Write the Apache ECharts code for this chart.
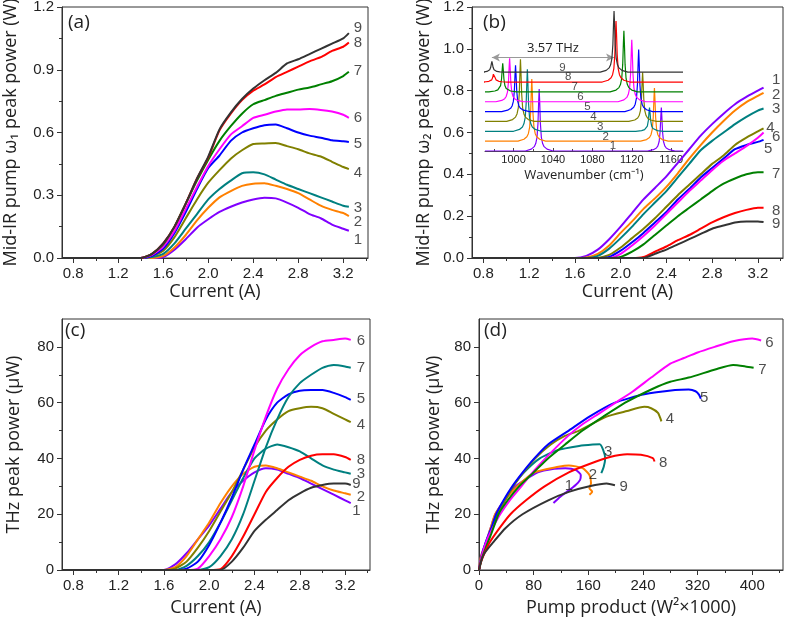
<!DOCTYPE html>
<html><head><meta charset="utf-8">
<script src="https://cdn.jsdelivr.net/npm/echarts@6/dist/echarts.min.js"></script>
<style>html,body{margin:0;padding:0;background:#fff}#c{width:787px;height:625px}</style>
</head><body><div id="c"></div>
<script>
// ---------------- DATA ----------------
const deviceNames = ['1','2','3','4','5','6','7','8','9'];
const current = [0.7,1.4,1.5,1.6,1.7,1.8,1.9,2.0,2.1,2.2,2.3,2.4,2.5,2.6,2.7,2.8,2.9,3.0,3.1,3.2,3.25];

// (a) Mid-IR pump w1 peak power (W), devices 1..9
const pumpW1 = [
  [0,0,0,0.005,0.04,0.09,0.145,0.185,0.22,0.245,0.265,0.28,0.288,0.285,0.265,0.24,0.21,0.19,0.16,0.14,0.13],
  [0,0,0,0.01,0.05,0.11,0.18,0.24,0.29,0.32,0.345,0.355,0.357,0.345,0.33,0.31,0.28,0.25,0.23,0.215,0.20],
  [0,0,0.005,0.02,0.07,0.14,0.21,0.28,0.33,0.37,0.405,0.41,0.40,0.375,0.35,0.33,0.31,0.29,0.27,0.25,0.245],
  [0,0,0.01,0.035,0.10,0.19,0.28,0.36,0.42,0.475,0.515,0.545,0.548,0.55,0.535,0.52,0.50,0.485,0.46,0.435,0.425],
  [0,0,0.01,0.045,0.12,0.22,0.33,0.43,0.49,0.56,0.60,0.62,0.635,0.638,0.62,0.60,0.585,0.575,0.563,0.558,0.555],
  [0,0,0.015,0.055,0.13,0.235,0.34,0.44,0.52,0.59,0.63,0.67,0.685,0.70,0.71,0.71,0.712,0.708,0.70,0.685,0.67],
  [0,0,0.02,0.065,0.15,0.26,0.37,0.47,0.56,0.63,0.69,0.735,0.755,0.775,0.79,0.805,0.815,0.83,0.845,0.87,0.89],
  [0,0,0.02,0.07,0.15,0.26,0.38,0.48,0.61,0.69,0.755,0.80,0.83,0.865,0.89,0.915,0.94,0.96,0.99,1.01,1.03],
  [0,0,0.02,0.07,0.15,0.26,0.38,0.485,0.615,0.695,0.76,0.81,0.85,0.885,0.93,0.95,0.975,1.0,1.025,1.05,1.075]
];
// (b) Mid-IR pump w2 peak power (W)
const pumpW2 = [
  [0,0,0,0,0.01,0.04,0.09,0.15,0.215,0.28,0.335,0.39,0.455,0.52,0.585,0.64,0.69,0.735,0.77,0.80,0.815],
  [0,0,0,0,0.003,0.02,0.06,0.12,0.175,0.235,0.285,0.34,0.405,0.475,0.54,0.60,0.655,0.705,0.745,0.775,0.79],
  [0,0,0,0,0,0.01,0.045,0.095,0.15,0.21,0.265,0.32,0.385,0.45,0.515,0.56,0.60,0.64,0.675,0.705,0.715],
  [0,0,0,0,0,0,0.015,0.05,0.095,0.14,0.19,0.245,0.30,0.35,0.40,0.45,0.49,0.54,0.575,0.605,0.62],
  [0,0,0,0,0,0,0.005,0.035,0.075,0.12,0.17,0.22,0.28,0.33,0.385,0.43,0.475,0.52,0.54,0.555,0.565],
  [0,0,0,0,0,0,0,0.02,0.06,0.105,0.155,0.21,0.265,0.32,0.37,0.42,0.465,0.50,0.535,0.575,0.60],
  [0,0,0,0,0,0,0,0.005,0.03,0.065,0.11,0.155,0.20,0.24,0.28,0.32,0.355,0.38,0.40,0.41,0.41],
  [0,0,0,0,0,0,0,0,0,0.005,0.03,0.055,0.085,0.11,0.14,0.17,0.195,0.215,0.23,0.24,0.24],
  [0,0,0,0,0,0,0,0,0,0,0.02,0.04,0.065,0.09,0.115,0.14,0.155,0.17,0.175,0.175,0.172]
];
// (c) THz peak power (uW) vs current
const thzPower = [
  [0,0,0,0,2,6,11,16,22,28,32,35,36.5,36,34.5,33,31,29,27,25,24],
  [0,0,0,0,1,5,11,17,24,30,34.5,37,37.5,36.5,35,33.5,32,30,28.5,27.5,27],
  [0,0,0,0,0,1.5,5,10,17,25,33,40,43.5,45,44,42.5,40,37.5,36,35,34.5],
  [0,0,0,0,0.5,3,8,14,21,28,36,44,50,54,57,58,58.5,58,56,54,53],
  [0,0,0,0,0,0.5,3,9,17,26,36,45,54,60,63,64.3,64.5,64.5,63.5,62,61],
  [0,0,0,0,0,0,0.5,5,11,19,30,43,55,65,72,77,80,82,82.5,83,82.5],
  [0,0,0,0,0,0,0,1,5,11,20,32,44,54,62,67,70,72.5,73.5,73,72.5],
  [0,0,0,0,0,0,0,0,0.3,5,12,20,28,33,37,39.5,41,41.5,41.5,40.5,39.5],
  [0,0,0,0,0,0,0,0,0,3,8,14,18,21.5,25,27.5,29.5,30.5,31,31,30.5]
];
// (d) THz peak power (uW) vs pump product (W^2 x 1000): [pump, thz]
const thzVsPump = [
  [[0,0],[3,5],[10,10],[17,15],[24,20],[37,25],[53.7,30],[86,35],[110,36.3],[126.5,36.5],[141.5,35.9],[149,34.1],[148,32.3],[141.5,30.5],[129,28.1],[119,26.3],[109,24]],
  [[0,0],[3,5],[11,10],[17,15],[23.6,20],[38,25],[56,30],[81,35],[116,37],[131.5,37.5],[151.6,36.5],[161.6,34.1],[164,31.1],[161.6,29.3],[165.6,28.1],[161.6,27]],
  [[0,0],[4,5],[11,10],[19,15],[27,20],[38,25],[50,30],[66,35],[89,40],[115,43],[146.5,44.5],[166.6,45],[176.7,45.1],[181.7,43.1],[184.7,40.1],[182.7,37.1],[179,34.7]],
  [[0,0],[4,5],[11,10],[19,15],[27,20],[38,25],[50,30],[65,35],[82,40],[105,45],[125,48],[146.5,50],[186.7,55],[216.8,57],[242,58.5],[252,58],[262,56.3],[267,53.3]],
  [[0,0],[4,5],[10,10],[18,15],[25,20],[36,25],[48.7,30],[64,35],[81,40],[101,45],[131.5,50],[161.6,55],[199,60],[242,63],[287,64.5],[307,64.7],[317,64.1],[322,62.9],[324.7,61.4]],
  [[0,0],[4,5],[12,11],[22,16],[31,20],[45,25],[62,30],[82,36],[105,42],[130,48],[150,52],[175,56],[200,60],[225,64],[252,69],[280,74],[300,76],[320,78],[345,80],[372,82],[400,83],[413,82.3]],
  [[0,0],[4,4],[10,8],[18,13],[28.6,20],[42,25],[58.7,30],[80,35],[101,40],[126,45],[151.6,50],[182,55],[214,60],[254.5,65],[280,67.5],[307,69],[347,72],[372,73.5],[390,73],[402,72.5]],
  [[0,0],[3,3],[8,6],[16,10],[30,15],[46,20],[68.8,25],[96,30],[131.5,35],[161.6,38],[191.7,40.5],[216.8,41.5],[237,41.3],[254.5,40.1],[257,38.9]],
  [[0,0],[3,3],[8,6],[21,10],[38.6,15],[63.7,20],[101.4,25],[131.5,28],[161.6,30],[186.7,31],[199,30.4]]
];
// inset spectra: peak positions (cm^-1) and heights (offset units), devices 1..9
const peakLow  = [1026,1018.5,1014,1007,1002,996,989,980,978];
const peakHigh = [1150,1143,1138,1131,1127,1120,1112,1104,1102];
const heightLow  = [6.3,6.3,6.3,6.3,4.7,4.4,2.9,1.0,1.1];
const heightHigh = [4.4,5.4,2.4,5.0,6.3,6.3,6.2,6.2,6.2];
const peakShape = [[-14,0],[-8,0.03],[-5,0.07],[-3.5,0.12],[-2.2,0.22],[-1.2,0.45],[-0.5,0.8],[0,1],[0.5,0.8],[1.2,0.45],[2.2,0.22],[3.5,0.12],[5,0.07],[8,0.03],[14,0]];
const waveRange = [971,1172];
const insetLabelX = [1101,1093.6,1088,1081,1075,1068,1062,1055.5,1049.5];
const arrowSpan = [978,1102];
const arrowLevel = 9.48;
const arrowText = '3.57 THz';

// ticks
const xMajorCur = [0.8,1.2,1.6,2.0,2.4,2.8,3.2];
const xMinorCur = [1.0,1.4,1.8,2.2,2.6,3.0,3.4];
const yMajorA = [0,0.3,0.6,0.9,1.2], yMinorA = [0.15,0.45,0.75,1.05];
const yMajorB = [0,0.2,0.4,0.6,0.8,1.0,1.2], yMinorB = [0.1,0.3,0.5,0.7,0.9,1.1];
const yMajorTHz = [0,20,40,60,80], yMinorTHz = [10,30,50,70];
const xMajorPump = [0,80,160,240,320,400], xMinorPump = [40,120,200,280,360,440];
const xMajorWave = [1000,1040,1080,1120,1160], xMinorWave = [980,1020,1060,1100,1140];

// curve end labels [x, y] per device
const labelPosA = [[3.33,0.088],[3.33,0.173],[3.33,0.242],[3.33,0.408],[3.33,0.545],[3.33,0.669],[3.33,0.893],[3.33,1.027],[3.33,1.101]];
const labelPosB = [[3.36,0.852],[3.36,0.78],[3.36,0.711],[3.31,0.623],[3.29,0.521],[3.36,0.58],[3.36,0.401],[3.36,0.225],[3.36,0.161]];
const labelPosC = [[3.30,21.3],[3.34,26.3],[3.34,34.4],[3.34,52],[3.34,61.3],[3.34,82],[3.34,72.5],[3.34,39.5],[3.30,30.9]];
const labelPosD = [[131.5,30.2],[166.6,34.1],[189,42.5],[279.5,54.1],[329.7,61.7],[425,81.4],[415,71.9],[269.5,38.3],[211.8,29.7]];

const colors  = ['#8000ff','#ff8000','#008080','#808000','#0000ff','#ff00ff','#008000','#ff0000','#333333'];
const colorsC = ['#8000ff','#ff8000','#008080','#808000','#0000ff','#ff00ff','#008080','#ff0000','#333333'];

// ---------------- BUILD ----------------
const tickFont = 'Liberation Sans, Arial, sans-serif';
const nameFont = 'Open Sans, Liberation Sans, sans-serif';
const ink = '#222';
const grids = [], xAxes = [], yAxes = [], series = [];

function addPanel(g, xr, yr, xMaj, xMin, yMaj, yMin, xName, yName, xGap, yGap, xFmt, yFmt) {
  const gi = grids.length;
  grids.push(Object.assign({show:true, borderColor:'#333', borderWidth:1, backgroundColor:'transparent', containLabel:false, outerBoundsMode:'none'}, g));
  const xi = xAxes.length, yi = yAxes.length;
  const nameStyle = {fontSize:18, color:ink, fontFamily:nameFont};
  xAxes.push({gridIndex:gi, type:'value', min:xr[0], max:xr[1], position:'bottom',
    axisLine:{show:true, onZero:false, lineStyle:{color:'#333'}},
    axisTick:{show:true, customValues:xMaj, length:5, lineStyle:{color:'#333'}},
    axisLabel:{customValues:xMaj, formatter:xFmt, fontSize:15, color:ink, fontFamily:tickFont, margin:8},
    splitLine:{show:false}, name:xName, nameLocation:'middle', nameGap:xGap, nameTextStyle:nameStyle, nameMoveOverlap:false});
  xAxes.push({gridIndex:gi, type:'value', min:xr[0], max:xr[1], position:'bottom',
    axisLine:{show:false}, axisTick:{show:true, customValues:xMin, length:3, lineStyle:{color:'#333'}},
    axisLabel:{show:false}, splitLine:{show:false}});
  yAxes.push({gridIndex:gi, type:'value', min:yr[0], max:yr[1], position:'left',
    axisLine:{show:true, onZero:false, lineStyle:{color:'#333'}},
    axisTick:{show:true, customValues:yMaj, length:5, lineStyle:{color:'#333'}},
    axisLabel:{customValues:yMaj, formatter:yFmt, fontSize:15, color:ink, fontFamily:tickFont, margin:8},
    splitLine:{show:false}, name:yName, nameLocation:'middle', nameGap:yGap, nameTextStyle:nameStyle, nameMoveOverlap:false});
  yAxes.push({gridIndex:gi, type:'value', min:yr[0], max:yr[1], position:'left',
    axisLine:{show:false}, axisTick:{show:true, customValues:yMin, length:3, lineStyle:{color:'#333'}},
    axisLabel:{show:false}, splitLine:{show:false}});
  return {xi, yi};
}
function addCurves(ax, dataList, cols) {
  dataList.forEach((d, i) => series.push({type:'line', name:deviceNames[i], xAxisIndex:ax.xi, yAxisIndex:ax.yi,
    data:d, showSymbol:false, symbol:'none', smooth:0.2, clip:true, silent:true,
    lineStyle:{width:2, color:cols[i]}, itemStyle:{color:cols[i]}, z:2+i}));
}
function addLabels(ax, pos, fs) {
  series.push({type:'scatter', xAxisIndex:ax.xi, yAxisIndex:ax.yi, silent:true, symbolSize:0.1,
    itemStyle:{color:'rgba(0,0,0,0)'}, z:20,
    data: pos.map((p, i) => [p[0], p[1], deviceNames[i]]),
    label:{show:true, position:'inside', formatter: p => p.data[2], fontSize:fs, color:ink, fontFamily:tickFont}});
}
const f1 = v => v.toFixed(1), f0 = v => String(v);
const byCurrent = arr => arr.map(vals => current.map((c, k) => [c, vals[k]]));

const axA = addPanel({left:62, top:7, width:306, height:251}, [0.7,3.42], [0,1.2], xMajorCur, xMinorCur, yMajorA, yMinorA,
  'Current (A)', 'Mid-IR pump ω₁ peak power (W)', 25, 42, f1, f1);
addCurves(axA, byCurrent(pumpW1), colors); addLabels(axA, labelPosA, 15);

const axB = addPanel({left:472, top:7, width:311, height:251}, [0.7,3.42], [0,1.2], xMajorCur, xMinorCur, yMajorB, yMinorB,
  'Current (A)', 'Mid-IR pump ω₂ peak power (W)', 25, 39, f1, f1);
addCurves(axB, byCurrent(pumpW2), colors); addLabels(axB, labelPosB, 15);

const axC = addPanel({left:62, top:319, width:308, height:251}, [0.7,3.42], [0,90], xMajorCur, xMinorCur, yMajorTHz, yMinorTHz,
  'Current (A)', 'THz peak power (μW)', 29, 39, f1, f0);
addCurves(axC, byCurrent(thzPower), colorsC); addLabels(axC, labelPosC, 15);

const axD = addPanel({left:479, top:319, width:304, height:251}, [0,445], [0,90], xMajorPump, xMinorPump, yMajorTHz, yMinorTHz,
  'Pump product (W²×1000)', 'THz peak power (μW)', 29, 36, f0, f0);
addCurves(axD, thzVsPump, colors); addLabels(axD, labelPosD, 15);

// inset
const gIn = grids.length;
grids.push({left:485, top:11, width:198, height:140, show:false, containLabel:false, outerBoundsMode:'none'});
const inX = xAxes.length, inY = yAxes.length;
xAxes.push({gridIndex:gIn, type:'value', min:waveRange[0], max:waveRange[1], position:'bottom',
  axisLine:{show:true, onZero:false, lineStyle:{color:'#444', width:1}},
  axisTick:{show:true, inside:true, customValues:xMajorWave, length:3, lineStyle:{color:'#444'}},
  axisLabel:{customValues:xMajorWave, formatter:f0, fontSize:11, color:ink, fontFamily:tickFont, margin:3},
  splitLine:{show:false}, name:'Wavenumber (cm⁻¹)', nameLocation:'middle', nameGap:18,
  nameTextStyle:{fontSize:13, color:ink, fontFamily:nameFont}, nameMoveOverlap:false});
xAxes.push({gridIndex:gIn, type:'value', min:waveRange[0], max:waveRange[1], position:'bottom',
  axisLine:{show:false}, axisTick:{show:true, inside:true, customValues:xMinorWave, length:2, lineStyle:{color:'#444'}},
  axisLabel:{show:false}, splitLine:{show:false}});
yAxes.push({gridIndex:gIn, type:'value', min:0, max:14.21, show:false});
deviceNames.forEach((nm, k) => {
  const pts = [[waveRange[0], k]];
  [[peakLow[k], heightLow[k]], [peakHigh[k], heightHigh[k]]].forEach(pk => {
    peakShape.forEach(s => pts.push([pk[0] + s[0], k + pk[1] * s[1]]));
  });
  pts.push([waveRange[1], k]);
  series.push({type:'line', xAxisIndex:inX, yAxisIndex:inY, data:pts, showSymbol:false, symbol:'none', silent:true,
    lineStyle:{width:1.2, color:colors[k]}, z:5+k});
});
series.push({type:'scatter', xAxisIndex:inX, yAxisIndex:inY, silent:true, symbolSize:0.1, itemStyle:{color:'rgba(0,0,0,0)'}, z:30,
  data: insetLabelX.map((x, k) => [x, k + 0.48, deviceNames[k]]),
  label:{show:true, position:'inside', formatter: p => p.data[2], fontSize:11.5, color:ink, fontFamily:tickFont}});
series.push({type:'line', xAxisIndex:inX, yAxisIndex:inY, data:[[arrowSpan[0], arrowLevel]], symbol:'none', silent:true,
  lineStyle:{opacity:0}, z:30,
  markLine:{silent:true, symbol:['arrow','arrow'], symbolSize:[6,8], animation:false,
    lineStyle:{color:'#999', width:1, type:'solid'},
    label:{show:true, position:'middle', formatter:arrowText, fontSize:13, color:ink, fontFamily:nameFont, distance:3},
    data:[[{coord:[arrowSpan[0], arrowLevel]}, {coord:[arrowSpan[1], arrowLevel]}]]}});

const panelTitle = (t, l, tp) => ({text:t, left:l, top:tp, padding:0,
  textStyle:{fontSize:19, fontWeight:'normal', color:ink, fontFamily:nameFont}});

const chart = echarts.init(document.getElementById('c'), null, {renderer:'canvas'});
chart.setOption({
  backgroundColor:'#fff', animation:false,
  title:[panelTitle('(a)',68,13), panelTitle('(b)',483,13), panelTitle('(c)',65,321), panelTitle('(d)',484,321)],
  grid:grids, xAxis:xAxes, yAxis:yAxes, series:series
});
</script></body></html>
